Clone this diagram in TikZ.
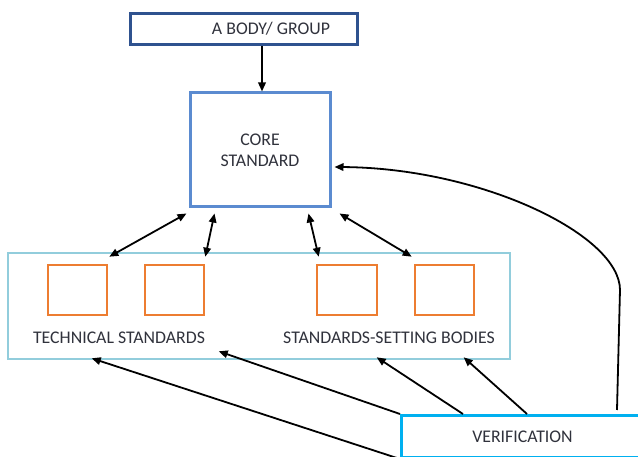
\documentclass[tikz,border=0pt]{standalone}
\usepackage{fontspec}
\setmainfont{Carlito}
\usetikzlibrary{arrows.meta,calc}
\definecolor{navyline}{HTML}{2F528F}
\definecolor{coreline}{HTML}{5B8BD0}
\definecolor{panelline}{HTML}{92CDDC}
\definecolor{orangeline}{HTML}{ED7D31}
\definecolor{verifline}{HTML}{00B0F0}
\definecolor{labelgrey}{HTML}{30323C}
\begin{document}
\begin{tikzpicture}[x=1pt,y=-1pt,
  lbl/.style={font=\fontsize{17.8}{21}\selectfont, text=labelgrey, inner sep=0pt},
  box/.style={draw, fill=white, inner sep=0pt},
  square/.style={box, draw=orangeline, line width=2.6pt, minimum width=59pt, minimum height=50pt},
  tip/.tip={Triangle[length=9pt,width=7.5pt]},
  conn/.style={line width=1.8pt, draw=black, -tip},
  both/.style={line width=1.8pt, draw=black, tip-tip}
]
\useasboundingbox (0,0) rectangle (638,457);
\clip (0,0) rectangle (638,457);
\fill[white] (0,0) rectangle (638,457);

% boxes
\node[box, draw=navyline, line width=3pt, minimum width=227pt, minimum height=31pt] (top) at (243.5,29.5) {};
\node[lbl] (toplabel) at (271,29) {A BODY/ GROUP};
\node[box, draw=coreline, line width=3pt, minimum width=140pt, minimum height=114pt,
      lbl, align=center] (core) at (260,150) {CORE\\STANDARD};
\node[box, draw=panelline, line width=2.6pt, minimum width=502pt, minimum height=106pt] (panel) at (259,306) {};
\node[square] (ts1) at (77.5,290) {};
\node[square] (ts2) at (174.5,290) {};
\node[square, minimum width=60pt] (sb1) at (347,290) {};
\node[square] (sb2) at (444.5,290) {};
\node[lbl] (tslabel) at (119,338) {TECHNICAL STANDARDS};
\node[lbl] (sblabel) at (389,338) {STANDARDS-SETTING BODIES};

% group feeds the core standard
\coordinate (coretop) at ([xshift=2pt]core.north);
\draw[conn] (top.south -| coretop) -- (coretop);

% two-way links between the core standard and the small boxes
\draw[both] ([xshift=-2pt,yshift=-5pt]core.south west) -- ([xshift=1pt,yshift=7pt]ts1.north east);
\draw[both] ([xshift=26pt,yshift=-5pt]core.south west) -- ([yshift=7pt]ts2.north east);
\draw[both] ([xshift=-23pt,yshift=-5pt]core.south east) -- ([xshift=3pt,yshift=7pt]sb1.north west);
\draw[both] ([xshift=8pt,yshift=-5pt]core.south east) -- ([xshift=-2pt,yshift=7pt]sb2.north west);

% verification box, running off the right edge
\node[box, draw=verifline, line width=3pt, minimum width=250pt, minimum height=42pt, anchor=north west,
      lbl] (verif) at (400,414) {\hspace*{-8pt}VERIFICATION};

% verification feeds back to the panel and the core
\draw[conn] (verif.north west) -- ([xshift=212pt,yshift=9pt]panel.south west);
\draw[conn] (verif.south west) -- ([xshift=85pt,yshift=2pt]panel.south west);
\draw[conn] ([xshift=63pt]verif.north west) -- ([xshift=370pt,yshift=3pt]panel.south west);
\draw[conn] ([xshift=127pt]verif.north west) -- ([xshift=457pt,yshift=3pt]panel.south west);
\coordinate (corein) at ([xshift=3pt,yshift=-17pt]core.east);
\draw[conn] ([xshift=217pt,yshift=4pt]verif.north west) -- ++(3,-120)
  .. controls +(0,-55) and +(147,1) .. (corein);
\end{tikzpicture}
\end{document}
